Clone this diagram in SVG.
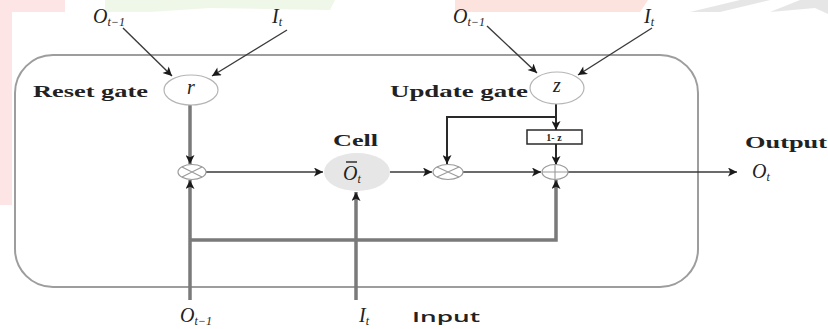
<svg xmlns="http://www.w3.org/2000/svg" width="828" height="329" viewBox="0 0 828 329">
<style>
.lbl{font-family:"Liberation Serif",serif;font-weight:bold;font-size:16px;fill:#222}
.math{font-family:"Liberation Serif",serif;font-style:italic;font-size:20px;fill:#222}
.sub{font-size:12px}
.gate{fill:#fff;stroke:#b5b5b5;stroke-width:1.2}
.op{fill:#fff;stroke:#9a9a9a;stroke-width:1.2}
.thin{fill:none;stroke:#3a3a3a;stroke-width:1.4}
.thick{fill:none;stroke:#7a7a7a;stroke-width:3.5}
.dark{fill:none;stroke:#2a2a2a;stroke-width:2}
</style>
<defs>
<marker id="ah" viewBox="0 0 10 10" refX="10" refY="5" markerUnits="userSpaceOnUse" markerWidth="11" markerHeight="9" orient="auto">
<path d="M0,0 L10,5 L0,10 L2.5,5 z" fill="#1a1a1a"/>
</marker>
</defs>
<rect width="828" height="329" fill="#fff"/>
<g id="background" opacity="0.9">
<polygon points="0,0 65,0 65,12 12,12 12,205 0,205" fill="#fde3e3"/>
<polygon points="105,0 335,0 330,10 210,8 150,12 105,12" fill="#eef7e6"/>
<polygon points="455,0 648,0 640,12 455,12" fill="#fde0da"/>
<polygon points="690,12 740,0 770,0 720,12" fill="#e4e4e4"/>
<polygon points="770,12 800,0 828,0 828,14 815,8" fill="#e4e4e4"/>
</g>
<g id="container">
<rect x="15" y="55" width="683" height="232" rx="38" ry="38" fill="none" stroke="#9d9d9d" stroke-width="2"/>
</g>
<g id="connectors">
<line class="thin" x1="123" y1="28" x2="172" y2="76" marker-end="url(#ah)"/>
<line class="thin" x1="287" y1="30" x2="212" y2="76" marker-end="url(#ah)"/>
<line class="thin" x1="487" y1="26" x2="537" y2="73" marker-end="url(#ah)"/>
<line class="thin" x1="652" y1="28" x2="578" y2="75" marker-end="url(#ah)"/>
<line class="thick" x1="190" y1="105" x2="190" y2="164" marker-end="url(#ah)"/>
<line class="thick" x1="190" y1="300" x2="190" y2="180" marker-end="url(#ah)"/>
<line class="thin" x1="206" y1="172" x2="323" y2="172" marker-end="url(#ah)"/>
<line class="thin" x1="390" y1="172" x2="432" y2="172" marker-end="url(#ah)"/>
<line class="thick" x1="356" y1="300" x2="356" y2="192" marker-end="url(#ah)"/>
<line class="dark" x1="556" y1="104" x2="556" y2="130" marker-end="url(#ah)"/>
<polyline class="dark" points="556,117 447,117 447,164" marker-end="url(#ah)"/>
<line class="dark" x1="556" y1="144" x2="556" y2="165" marker-end="url(#ah)"/>
<line class="thin" x1="463" y1="172" x2="541" y2="172" marker-end="url(#ah)"/>
<polyline class="thick" points="190,240 556,240 556,180" marker-end="url(#ah)"/>
<line class="thin" x1="568" y1="172" x2="737" y2="172" marker-end="url(#ah)"/>
</g>
<g id="reset-gate">
<ellipse class="gate" cx="191" cy="90" rx="27" ry="15"/>
<text class="math" x="191" y="94" font-size="12" text-anchor="middle">r</text>
<text class="lbl" x="33" y="97" textLength="115" lengthAdjust="spacingAndGlyphs">Reset gate</text>
</g>
<g id="update-gate">
<ellipse class="gate" cx="557" cy="88" rx="27" ry="16"/>
<text class="math" x="557" y="92" font-size="12" text-anchor="middle">z</text>
<text class="lbl" x="390" y="97" textLength="138" lengthAdjust="spacingAndGlyphs">Update gate</text>
</g>
<g id="one-minus-z">
<rect x="527" y="130" width="55" height="14" fill="#fff" stroke="#2a2a2a" stroke-width="1.5"/>
<text x="554" y="141" font-family="Liberation Serif,serif" font-weight="bold" font-size="10" text-anchor="middle" fill="#222">1- z</text>
</g>
<g id="mult-reset">
<ellipse class="op" cx="192" cy="172" rx="14" ry="7.5"/>
<path d="M182,167 L202,177 M182,177 L202,167" stroke="#9a9a9a" stroke-width="1.1"/>
</g>
<g id="cell">
<ellipse cx="357" cy="172" rx="33" ry="19" fill="#e6e6e6"/>
<text class="math" x="343" y="180">O<tspan class="sub" dy="3">t</tspan></text>
<line x1="346" y1="162" x2="357" y2="162" stroke="#222" stroke-width="1.4"/>
<text class="lbl" x="333" y="146" textLength="45" lengthAdjust="spacingAndGlyphs">Cell</text>
</g>
<g id="mult-update">
<ellipse class="op" cx="448" cy="172" rx="15" ry="7.5"/>
<path d="M437,167 L459,177 M437,177 L459,167" stroke="#9a9a9a" stroke-width="1.1"/>
</g>
<g id="add">
<ellipse class="op" cx="555" cy="172" rx="13" ry="7.5"/>
<path d="M542,172 L568,172 M555,164.5 L555,179.5" stroke="#9a9a9a" stroke-width="1.1"/>
</g>
<g id="output">
<text class="lbl" x="745" y="148" textLength="82" lengthAdjust="spacingAndGlyphs">Output</text>
<text class="math" x="752" y="178">O<tspan class="sub" dy="3">t</tspan></text>
</g>
<g id="inputs-top">
<text class="math" x="93" y="23">O<tspan class="sub" dy="3">t−1</tspan></text>
<text class="math" x="272" y="23">I<tspan class="sub" dy="3">t</tspan></text>
<text class="math" x="453" y="23">O<tspan class="sub" dy="3">t−1</tspan></text>
<text class="math" x="644" y="23">I<tspan class="sub" dy="3">t</tspan></text>
</g>
<g id="inputs-bottom">
<text class="math" x="180" y="322">O<tspan class="sub" dy="3">t−1</tspan></text>
<text class="math" x="359" y="322">I<tspan class="sub" dy="3">t</tspan></text>
<text x="412" y="322" font-family="Open Sans,sans-serif" font-weight="600" font-size="15" fill="#222" textLength="68" lengthAdjust="spacingAndGlyphs">Input</text>
</g>
</svg>
